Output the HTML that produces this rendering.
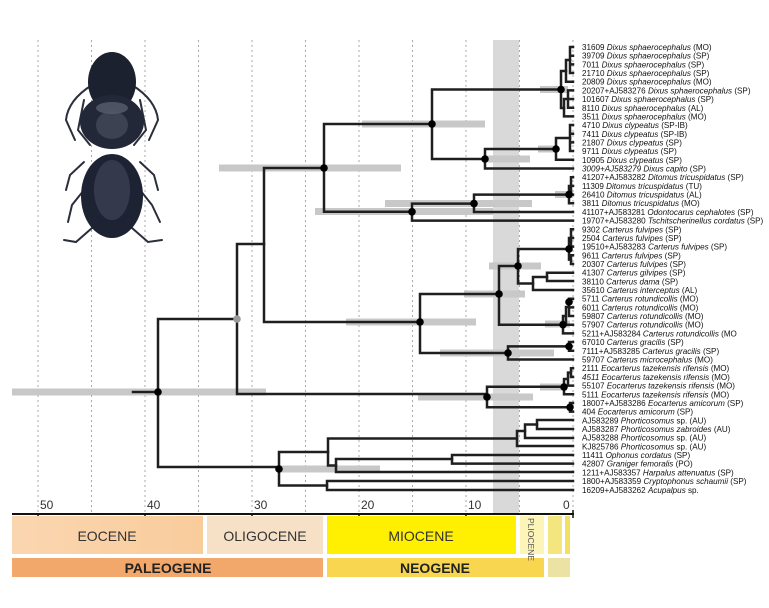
<!DOCTYPE html>
<html><head><meta charset="utf-8"><style>
html,body{margin:0;padding:0;background:#fff;}
svg{display:block;}
text{font-family:"Liberation Sans",sans-serif;}
</style></head><body>
<svg width="769" height="608" viewBox="0 0 769 608" xmlns="http://www.w3.org/2000/svg">
<rect x="493" y="40" width="26" height="474" fill="#d9d9d9"/>
<g stroke="#a8a8a8" stroke-width="1" stroke-dasharray="2,3">
<line x1="573" y1="40" x2="573" y2="514"/><line x1="519.5" y1="40" x2="519.5" y2="514"/>
<line x1="466" y1="40" x2="466" y2="514"/><line x1="412.5" y1="40" x2="412.5" y2="514"/>
<line x1="359" y1="40" x2="359" y2="514"/><line x1="305.5" y1="40" x2="305.5" y2="514"/>
<line x1="252" y1="40" x2="252" y2="514"/><line x1="198.5" y1="40" x2="198.5" y2="514"/>
<line x1="145" y1="40" x2="145" y2="514"/><line x1="91.5" y1="40" x2="91.5" y2="514"/>
<line x1="38" y1="40" x2="38" y2="514"/>
</g>
<g>
<g stroke="#2a2e3a" stroke-width="2" fill="none" stroke-linecap="round">
<path d="M92 85 Q68 100 66 120 L75 140"/><path d="M132 85 Q156 100 158 120 L149 140"/>
<path d="M84 100 L78 130 L90 145"/><path d="M140 100 L146 130 L134 145"/>
<path d="M84 162 L70 175 L66 190"/><path d="M140 162 L154 175 L158 190"/>
<path d="M84 190 L72 205 L68 222"/><path d="M140 190 L152 205 L160 222"/>
<path d="M92 228 L76 242 L64 240"/><path d="M132 228 L148 242 L162 240"/>
</g>
<ellipse cx="112" cy="82" rx="24" ry="30" fill="#1c2130"/>
<ellipse cx="112" cy="122" rx="32" ry="27" fill="#232838"/>
<ellipse cx="112" cy="108" rx="16" ry="6" fill="#6a7080" opacity="0.6"/>
<ellipse cx="112" cy="125" rx="16" ry="14" fill="#555b6c" opacity="0.5"/>
<ellipse cx="112" cy="196" rx="31" ry="42" fill="#1e2333"/>
<ellipse cx="112" cy="190" rx="18" ry="30" fill="#4a5266" opacity="0.5"/>
</g>
<g fill="#c8c8c8">
<rect x="12" y="388.5" width="254" height="7"/>
<rect x="219" y="164.5" width="182" height="7"/>
<rect x="362" y="120.5" width="123" height="7"/>
<rect x="487" y="155.5" width="43" height="7"/>
<rect x="315" y="208" width="178" height="7"/>
<rect x="385" y="200" width="147" height="7"/>
<rect x="538" y="145.5" width="19" height="7"/>
<rect x="346" y="318.5" width="130" height="7"/>
<rect x="464" y="290.5" width="61" height="7"/>
<rect x="489" y="262.5" width="52" height="7"/>
<rect x="440" y="349.5" width="114" height="7"/>
<rect x="418" y="393.5" width="115" height="7"/>
<rect x="279" y="465.5" width="101" height="7"/>
<rect x="540" y="86" width="28" height="7"/>
<rect x="555" y="191" width="18" height="7"/>
<rect x="540" y="383.5" width="27" height="7"/>
<rect x="545" y="320.5" width="25" height="7"/>
</g>
<g stroke="#1f1f1f" stroke-width="2.5" fill="none" stroke-linecap="square">
<path d="M133 392H158M158 319V467M158 319H237M158 467H279"/>
<path d="M237 244V394M237 244H264M237 394H487"/>
<path d="M264 168V322M264 168H324M264 322H420"/>
<path d="M324 124V211.8M324 124H432M324 211.8H412"/>
<path d="M432 89.5V159M432 89.5H561M432 159H485"/>
<path d="M485 149V168.5M485 149H556M485 168.5H573"/>
<path d="M412 203.6V220.6M412 203.6H474M412 220.6H573"/>
<path d="M474 194.6V212M474 194.6H569M474 212H573"/>
<path d="M420 294V353M420 294H499M420 353H508"/>
<path d="M499 266V324.7M499 266H518M499 324.7H563"/>
<path d="M518 249V283.5M518 249H569M518 283.5H533"/>
<path d="M533 277V290M533 277H547M533 290H573"/>
<path d="M547 272.7V281M547 272.7H573M547 281H573"/>
<path d="M508 346.4V359.5M508 346.4H569M508 359.5H573"/>
<path d="M487 386.7V407.3M487 386.7H564M487 407.3H570"/>
<path d="M279 452V485.5M279 452H328M279 485.5H327"/>
<path d="M328 438.5V465.5M328 438.5H517M328 465.5H336"/>
<path d="M517 431V446M517 431H525M517 446H573"/>
<path d="M525 424.5V438M525 424.5H537M525 438H573"/>
<path d="M537 420V429M537 420H573M537 429H573"/>
<path d="M336 459V472M336 459H452M336 472H573"/>
<path d="M452 455V463.6M452 455H573M452 463.6H573"/>
<path d="M327 481V490M327 481H573M327 490H573"/>
<path d="M561 71V108M561 71H566M561 108H564"/>
<path d="M566 60V81.7M566 60H570M566 81.7H573"/>
<path d="M570 47V73M570 47H573M570 55.7H573M570 64.4H573M570 73H573"/>
<path d="M564 99V116.4M564 99H568M564 116.4H573"/>
<path d="M568 90.4V107.8M568 90.4H573M568 99H573M568 107.8H573"/>
<path d="M556 138V159.8M556 138H570M556 159.8H573"/>
<path d="M570 125V151M570 125H573M570 133.8H573M570 142.4H573M570 151H573"/>
<path d="M569 186V203.2M569 186H571M569 203.2H573M571 177.2V194.6M571 177.2H573M571 185.9H573M571 194.6H573"/>
<path d="M569 238V259.6M571 229.3V246.6M571 255.3V264M569 238H571M569 259.6H571M571 229.3H573M571 238H573M571 246.6H573M571 255.3H573M571 264H573"/>
<path d="M563 316V333.4M563 316H566M563 333.4H573M566 307V324.7M566 307H569M566 324.7H573M569 298.7V316M569 298.7H573M569 307.4H573M569 316H573"/>
<path d="M569 342V350.8M569 342H573M569 350.8H573"/>
<path d="M564 379V394.3M564 379H568M564 394.3H573M568 372.6V385.6M568 372.6H571M568 385.6H573M571 368.2V377M571 368.2H573M571 377H573"/>
<path d="M570 403V411.6M570 403H573M570 411.6H573"/>
</g>
<g fill="#000">
<circle cx="158" cy="392" r="3.8"/><circle cx="324" cy="168" r="3.8"/><circle cx="432" cy="124" r="3.8"/>
<circle cx="485" cy="159" r="3.8"/><circle cx="412" cy="211.8" r="3.8"/><circle cx="474" cy="203.6" r="3.8"/>
<circle cx="420" cy="322" r="3.8"/><circle cx="487" cy="397" r="3.8"/><circle cx="279" cy="469" r="3.8"/>
<circle cx="499" cy="294" r="3.8"/><circle cx="518" cy="266" r="3.8"/><circle cx="508" cy="353" r="3.8"/>
<circle cx="561" cy="89.5" r="3.8"/><circle cx="556" cy="149" r="3.8"/><circle cx="569" cy="194.6" r="3.8"/>
<circle cx="569" cy="249" r="3.8"/><circle cx="563" cy="324.7" r="3.8"/><circle cx="569" cy="302" r="3.8"/>
<circle cx="569" cy="346.4" r="3.8"/><circle cx="564" cy="387" r="3.8"/><circle cx="570" cy="407.3" r="3.8"/>
</g>
<circle cx="237" cy="319" r="3.8" fill="#9a9a9a"/>
<g font-size="8.1" fill="#111">
<text x="582" y="50">31609 <tspan font-style="italic">Dixus sphaerocephalus</tspan> (MO)</text>
<text x="582" y="58.7">39709 <tspan font-style="italic">Dixus sphaerocephalus</tspan> (SP)</text>
<text x="582" y="67.4">7011 <tspan font-style="italic">Dixus sphaerocephalus</tspan> (SP)</text>
<text x="582" y="76">21710 <tspan font-style="italic">Dixus sphaerocephalus</tspan> (SP)</text>
<text x="582" y="84.7">20809 <tspan font-style="italic">Dixus sphaerocephalus</tspan> (MO)</text>
<text x="582" y="93.4">20207+AJ583276 <tspan font-style="italic">Dixus sphaerocephalus</tspan> (SP)</text>
<text x="582" y="102">101607 <tspan font-style="italic">Dixus sphaerocephalus</tspan> (SP)</text>
<text x="582" y="110.8">8110 <tspan font-style="italic">Dixus sphaerocephalus</tspan> (AL)</text>
<text x="582" y="119.4">3511 <tspan font-style="italic">Dixus sphaerocephalus</tspan> (MO)</text>
<text x="582" y="128">4710 <tspan font-style="italic">Dixus clypeatus</tspan> (SP-IB)</text>
<text x="582" y="136.8">7411 <tspan font-style="italic">Dixus clypeatus</tspan> (SP-IB)</text>
<text x="582" y="145.4">21807 <tspan font-style="italic">Dixus clypeatus</tspan> (SP)</text>
<text x="582" y="154">9711 <tspan font-style="italic">Dixus clypeatus</tspan> (SP)</text>
<text x="582" y="162.8">10905 <tspan font-style="italic">Dixus clypeatus</tspan> (SP)</text>
<text x="582" y="171.5"><tspan font-style="italic">3009+AJ583279 Dixus capito</tspan> (SP)</text>
<text x="582" y="180.2">41207+AJ583282 <tspan font-style="italic">Ditomus tricuspidatus</tspan> (SP)</text>
<text x="582" y="188.9">11309 <tspan font-style="italic">Ditomus tricuspidatus</tspan> (TU)</text>
<text x="582" y="197.6">26410 <tspan font-style="italic">Ditomus tricuspidatus</tspan> (AL)</text>
<text x="582" y="206.2">3811 <tspan font-style="italic">Ditomus tricuspidatus</tspan> (MO)</text>
<text x="582" y="215">41107+AJ583281 <tspan font-style="italic">Odontocarus cephalotes</tspan> (SP)</text>
<text x="582" y="223.6">19707+AJ583280 <tspan font-style="italic">Tschitscherinellus cordatus</tspan> (SP)</text>
<text x="582" y="232.3">9302 <tspan font-style="italic">Carterus fulvipes</tspan> (SP)</text>
<text x="582" y="241">2504 <tspan font-style="italic">Carterus fulvipes</tspan> (SP)</text>
<text x="582" y="249.6">19510+AJ583283 <tspan font-style="italic">Carterus fulvipes</tspan> (SP)</text>
<text x="582" y="258.3">9611 <tspan font-style="italic">Carterus fulvipes</tspan> (SP)</text>
<text x="582" y="267">20307 <tspan font-style="italic">Carterus fulvipes</tspan> (SP)</text>
<text x="582" y="275.7">41307 <tspan font-style="italic">Carterus gilvipes</tspan> (SP)</text>
<text x="582" y="284.4">38110 <tspan font-style="italic">Carterus dama</tspan> (SP)</text>
<text x="582" y="293">35610 <tspan font-style="italic">Carterus interceptus</tspan> (AL)</text>
<text x="582" y="301.7">5711 <tspan font-style="italic">Carterus rotundicollis</tspan> (MO)</text>
<text x="582" y="310.4">6011 <tspan font-style="italic">Carterus rotundicollis</tspan> (MO)</text>
<text x="582" y="319">59807 <tspan font-style="italic">Carterus rotundicollis</tspan> (MO)</text>
<text x="582" y="327.7">57907 <tspan font-style="italic">Carterus rotundicollis</tspan> (MO)</text>
<text x="582" y="336.4">5211+AJ583284 <tspan font-style="italic">Carterus rotundicollis</tspan> (MO</text>
<text x="582" y="345">67010 <tspan font-style="italic">Carterus gracilis</tspan> (SP)</text>
<text x="582" y="353.8">7111+AJ583285 <tspan font-style="italic">Carterus gracilis</tspan> (SP)</text>
<text x="582" y="362.5">59707 <tspan font-style="italic">Carterus microcephalus</tspan> (MO)</text>
<text x="582" y="371.2">2111 <tspan font-style="italic">Eocarterus tazekensis rifensis</tspan> (MO)</text>
<text x="582" y="380"><tspan font-style="italic">4511 Eocarterus tazekensis rifensis</tspan> (MO)</text>
<text x="582" y="388.6">55107 <tspan font-style="italic">Eocarterus tazekensis rifensis</tspan> (MO)</text>
<text x="582" y="397.3">5111 <tspan font-style="italic">Eocarterus tazekensis rifensis</tspan> (MO)</text>
<text x="582" y="406">18007+AJ583286 <tspan font-style="italic">Eocarterus amicorum</tspan> (SP)</text>
<text x="582" y="414.6">404 <tspan font-style="italic">Eocarterus amicorum</tspan> (SP)</text>
<text x="582" y="423.3">AJ583289  <tspan font-style="italic">Phorticosomus</tspan> sp. (AU)</text>
<text x="582" y="432">AJ583287 <tspan font-style="italic">Phorticosomus zabroides</tspan> (AU)</text>
<text x="582" y="440.7">AJ583288 <tspan font-style="italic">Phorticosomus</tspan> sp. (AU)</text>
<text x="582" y="449.4">KJ825786 <tspan font-style="italic">Phorticosomus</tspan> sp. (AU)</text>
<text x="582" y="458">11411 <tspan font-style="italic">Ophonus cordatus</tspan>  (SP)</text>
<text x="582" y="466.7">42807 <tspan font-style="italic">Graniger femoralis</tspan> (PO)</text>
<text x="582" y="475.4">1211+AJ583357 <tspan font-style="italic">Harpalus attenuatus</tspan> (SP)</text>
<text x="582" y="484">1800+AJ583359 <tspan font-style="italic">Cryptophonus schaumii</tspan> (SP)</text>
<text x="582" y="492.8">16209+AJ583262 <tspan font-style="italic">Acupalpus</tspan> sp.</text>
</g>
<line x1="12" y1="514" x2="574" y2="514" stroke="#111" stroke-width="2"/>
<g stroke="#111" stroke-width="1.5">
<line x1="38" y1="514" x2="38" y2="518"/><line x1="145" y1="514" x2="145" y2="518"/>
<line x1="252" y1="514" x2="252" y2="518"/><line x1="359" y1="514" x2="359" y2="518"/>
<line x1="466" y1="514" x2="466" y2="518"/><line x1="573" y1="510" x2="573" y2="518"/>
</g>
<g font-size="12" fill="#333">
<text x="40" y="509">50</text><text x="147" y="509">40</text><text x="254" y="509">30</text>
<text x="361" y="509">20</text><text x="468" y="509">10</text><text x="563" y="509">0</text>
</g>
<defs><linearGradient id="eo" x1="0" x2="1"><stop offset="0" stop-color="#fad6b0"/><stop offset="1" stop-color="#f9cc9c"/></linearGradient></defs>
<rect x="12" y="516" width="191" height="38" fill="url(#eo)"/>
<rect x="207" y="516" width="116" height="38" fill="#f6e1c6"/>
<rect x="327" y="516" width="189" height="38" fill="#ffef00"/>
<rect x="520" y="516" width="24" height="38" fill="#fdf4b8"/>
<rect x="548" y="516" width="14" height="38" fill="#f3e67e"/>
<rect x="565" y="516" width="5" height="38" fill="#f2e060"/>
<rect x="12" y="558" width="311" height="19" fill="#f3a86b"/>
<rect x="327" y="558" width="217" height="19" fill="#f8d650"/>
<rect x="548" y="558" width="22" height="19" fill="#ebe2a4"/>
<g fill="#333" font-size="14" text-anchor="middle">
<text x="107" y="541">EOCENE</text>
<text x="265" y="541">OLIGOCENE</text>
<text x="421" y="541">MIOCENE</text>
</g>
<text x="528" y="518" font-size="8.5" fill="#555" transform="rotate(90 528 518)">PLIOCENE</text>
<g fill="#222" font-size="14" font-weight="bold" text-anchor="middle">
<text x="168" y="573">PALEOGENE</text>
<text x="435" y="573">NEOGENE</text>
</g>
</svg>
</body></html>
